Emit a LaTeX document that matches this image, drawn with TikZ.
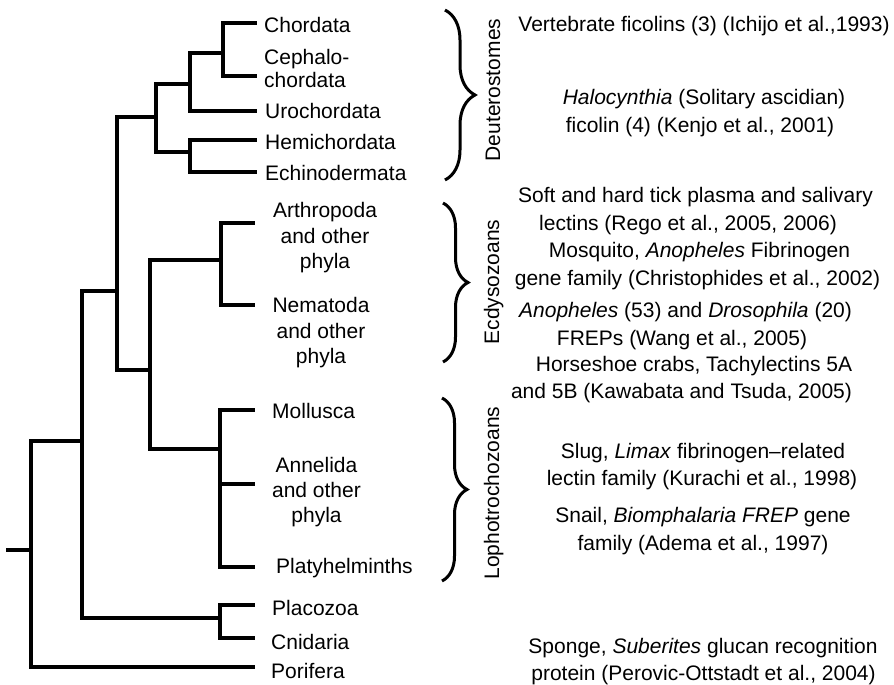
\documentclass[tikz,border=0pt]{standalone}
\usepackage{fontspec}
\setmainfont{Liberation Sans}
\usetikzlibrary{decorations.pathreplacing}
\begin{document}
\begin{tikzpicture}[x=1pt,y=-1pt,
  branch/.style={line width=3.3pt,line cap=rect,line join=miter},
  cladebrace/.style={line width=3pt,decorate,decoration={brace,amplitude=#1}},
  taxon/.style={inner sep=0pt,anchor=base west,font=\fontsize{21}{25}\selectfont},
  taxonc/.style={inner sep=0pt,anchor=base,font=\fontsize{21}{25}\selectfont},
  cladename/.style={inner sep=0pt,anchor=base,rotate=90,font=\fontsize{21}{25}\selectfont},
  note/.style={inner sep=0pt,anchor=base,font=\fontsize{21}{25}\selectfont}]
\useasboundingbox (0,0) rectangle (894,685);

% ---- branch points ----
\coordinate (root) at (8,550);
\coordinate (j0)   at (31,550);
\coordinate (jA)   at (82,441);
\coordinate (jB)   at (117,291);
\coordinate (jDeu) at (156,117);
\coordinate (jCho) at (190,84);
\coordinate (jCC)  at (223,53);
\coordinate (jAmb) at (190,152);
\coordinate (jPro) at (150,370);
\coordinate (jEcd) at (221,260);
\coordinate (jLop) at (220,449);
\coordinate (jPC)  at (220,618);

% ---- tips ----
\coordinate (eCho) at (255,23);
\coordinate (eCep) at (255,76);
\coordinate (eUro) at (255,111);
\coordinate (eHem) at (255,140);
\coordinate (eEch) at (255,172);
\coordinate (eArt) at (253,223);
\coordinate (eNem) at (253,305);
\coordinate (eMol) at (253,410);
\coordinate (eAnn) at (253,484);
\coordinate (ePla) at (253,567);
\coordinate (ePlc) at (253,605);
\coordinate (eCni) at (253,638);
\coordinate (ePor) at (253,667);

% ---- tree ----
\draw[branch] (root) -- (j0);
\draw[branch] (j0) |- (jA);   \draw[branch] (j0) |- (ePor);
\draw[branch] (jA) |- (jB);   \draw[branch] (jA) |- (jPC);
\draw[branch] (jB) |- (jDeu); \draw[branch] (jB) |- (jPro);
\draw[branch] (jDeu) |- (jCho); \draw[branch] (jDeu) |- (jAmb);
\draw[branch] (jCho) |- (jCC);  \draw[branch] (jCho) |- (eUro);
\draw[branch] (jCC) |- (eCho);  \draw[branch] (jCC) |- (eCep);
\draw[branch] (jAmb) |- (eHem); \draw[branch] (jAmb) |- (eEch);
\draw[branch] (jPro) |- (jEcd); \draw[branch] (jPro) |- (jLop);
\draw[branch] (jEcd) |- (eArt); \draw[branch] (jEcd) |- (eNem);
\draw[branch] (jLop) |- (eMol); \draw[branch] (jLop) |- (eAnn); \draw[branch] (jLop) |- (ePla);
\draw[branch] (jPC) |- (ePlc);  \draw[branch] (jPC) |- (eCni);

% ---- taxa ----
\node[taxon] (tCho) at (264,33) {Chordata};
\node[taxon] (tCep1) at (264,65) {Cephalo-};
\node[taxon] (tCep2) at (264,87.5) {chordata};
\node[taxon] (tUro) at (265,118) {Urochordata};
\node[taxon] (tHem) at (265,149) {Hemichordata};
\node[taxon] (tEch) at (265,180) {Echinodermata};
\node[taxonc] (tArt1) at (325,217) {Arthropoda};
\node[taxonc] (tArt2) at (325,243) {and other};
\node[taxonc] (tArt3) at (325,268) {phyla};
\node[taxonc] (tNem1) at (321,312) {Nematoda};
\node[taxonc] (tNem2) at (321,338) {and other};
\node[taxonc] (tNem3) at (321,363) {phyla};
\node[taxon] (tMol) at (272,418) {Mollusca};
\node[taxonc] (tAnn1) at (316.5,472) {Annelida};
\node[taxonc] (tAnn2) at (316.5,497) {and other};
\node[taxonc] (tAnn3) at (316.5,522) {phyla};
\node[taxon] (tPla) at (276,573) {Platyhelminths};
\node[taxon] (tPlc) at (272,615) {Placozoa};
\node[taxon] (tCni) at (271,649) {Cnidaria};
\node[taxon] (tPor) at (271,678) {Porifera};

% ---- clade braces ----
\coordinate (bDeuT) at (445,10);  \coordinate (bDeuB) at (445,180);
\coordinate (bEcdT) at (443,203); \coordinate (bEcdB) at (443,362);
\coordinate (bLopT) at (442,398); \coordinate (bLopB) at (442,581);
\draw[cladebrace=30pt] (bDeuT) -- (bDeuB);
\draw[cladebrace=25pt] (bEcdT) -- (bEcdB);
\draw[cladebrace=25pt] (bLopT) -- (bLopB);
\node[cladename] (cDeu) at (500,90) {Deuterostomes};
\node[cladename] (cEcd) at (499,282) {Ecdysozoans};
\node[cladename] (cLop) at (499,493) {Lophotrochozoans};

% ---- fibrinogen-related proteins ----
\node[note] (n1)  at (704,31.5) {Vertebrate ficolins (3) (Ichijo et al.,1993)};
\node[note] (n2)  at (704,104) {\textit{Halocynthia} (Solitary ascidian)};
\node[note] (n3)  at (700,132) {ficolin (4) (Kenjo et al., 2001)};
\node[note] (n4)  at (695.5,202) {Soft and hard tick plasma and salivary};
\node[note] (n5)  at (688,230) {lectins (Rego et al., 2005, 2006)};
\node[note] (n6)  at (699.5,257) {Mosquito, \textit{Anopheles} Fibrinogen};
\node[note] (n7)  at (697.5,285) {gene family (Christophides et al., 2002)};
\node[note] (n8)  at (685.5,317) {\textit{Anopheles} (53) and \textit{Drosophila} (20)};
\node[note] (n9)  at (682,345) {FREPs (Wang et al., 2005)};
\node[note] (n10) at (694,371) {Horseshoe crabs, Tachylectins 5A};
\node[note] (n11) at (681.5,398) {and 5B (Kawabata and Tsuda, 2005)};
\node[note] (n12) at (703,458) {Slug, \textit{Limax} fibrinogen–related};
\node[note] (n13) at (702,485) {lectin family (Kurachi et al., 1998)};
\node[note] (n14) at (703,522) {Snail, \textit{Biomphalaria FREP} gene};
\node[note] (n15) at (703,550) {family (Adema et al., 1997)};
\node[note] (n16) at (703,653) {Sponge, \textit{Suberites} glucan recognition};
\node[note] (n17) at (703.5,680) {protein (Perovic-Ottstadt et al., 2004)};
\end{tikzpicture}
\end{document}
